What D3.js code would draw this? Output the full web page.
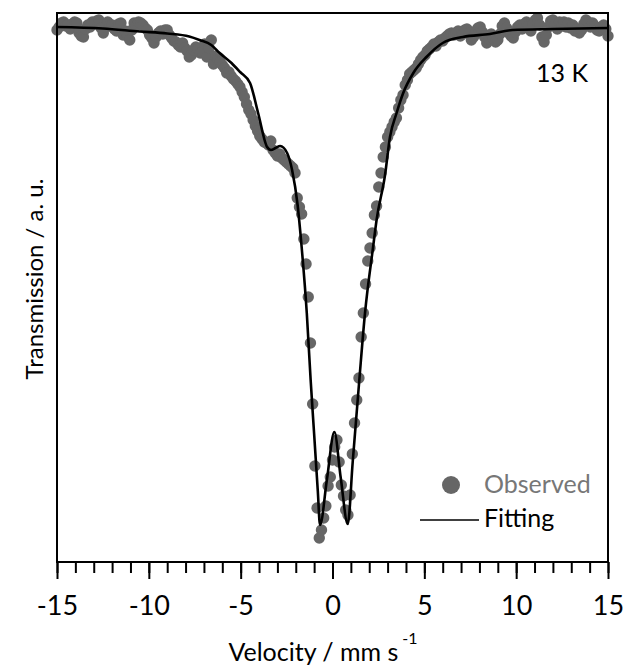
<!DOCTYPE html>
<html>
<head>
<meta charset="utf-8">
<script src="https://cdn.jsdelivr.net/npm/d3@7/dist/d3.min.js"></script>
<style>
body { margin: 0; background: #fff; }
svg { font-family: Lato, "Open Sans", sans-serif; }
</style>
</head>
<body>
<svg id="graph" width="624" height="668"></svg>
<script>
// channel velocities (mm/s)
var velocity = [
-15.00,-14.88,-14.76,-14.64,-14.52,-14.40,-14.28,-14.16,-14.04,-13.92,
-13.80,-13.68,-13.56,-13.44,-13.32,-13.20,-13.08,-12.96,-12.84,-12.72,
-12.60,-12.48,-12.36,-12.24,-12.12,-12.00,-11.88,-11.76,-11.64,-11.52,
-11.40,-11.28,-11.16,-11.04,-10.92,-10.80,-10.68,-10.56,-10.44,-10.32,
-10.20,-10.08,-9.96,-9.84,-9.72,-9.60,-9.48,-9.36,-9.24,-9.12,
-9.00,-8.88,-8.76,-8.64,-8.52,-8.40,-8.28,-8.16,-8.04,-7.92,
-7.80,-7.68,-7.56,-7.44,-7.32,-7.20,-7.08,-6.96,-6.84,-6.72,
-6.60,-6.48,-6.36,-6.24,-6.12,-6.00,-5.88,-5.76,-5.64,-5.52,
-5.40,-5.28,-5.16,-5.04,-4.92,-4.80,-4.68,-4.56,-4.44,-4.32,
-4.20,-4.08,-3.96,-3.84,-3.72,-3.60,-3.48,-3.36,-3.24,-3.12,
-3.00,-2.88,-2.76,-2.64,-2.52,-2.40,-2.28,-2.16,-2.04,-1.92,
-1.80,-1.68,-1.56,-1.44,-1.32,-1.20,-1.08,-0.96,-0.84,-0.72,
-0.60,-0.48,-0.36,-0.24,-0.12,0.00,0.12,0.24,0.36,0.48,
0.60,0.72,0.84,0.96,1.08,1.20,1.32,1.44,1.56,1.68,
1.80,1.92,2.04,2.16,2.28,2.40,2.52,2.64,2.76,2.88,
3.00,3.12,3.24,3.36,3.48,3.60,3.72,3.84,3.96,4.08,
4.20,4.32,4.44,4.56,4.68,4.80,4.92,5.04,5.16,5.28,
5.40,5.52,5.64,5.76,5.88,6.00,6.12,6.24,6.36,6.48,
6.60,6.72,6.84,6.96,7.08,7.20,7.32,7.44,7.56,7.68,
7.80,7.92,8.04,8.16,8.28,8.40,8.52,8.64,8.76,8.88,
9.00,9.12,9.24,9.36,9.48,9.60,9.72,9.84,9.96,10.08,
10.20,10.32,10.44,10.56,10.68,10.80,10.92,11.04,11.16,11.28,
11.40,11.52,11.64,11.76,11.88,12.00,12.12,12.24,12.36,12.48,
12.60,12.72,12.84,12.96,13.08,13.20,13.32,13.44,13.56,13.68,
13.80,13.92,14.04,14.16,14.28,14.40,14.52,14.64,14.76,14.88,
15.00];

// observed transmission (%)
var observed = [
99.78,99.90,100.06,100.10,99.94,99.98,99.82,100.02,100.10,100.06,
99.66,99.54,99.50,99.82,99.98,99.90,100.10,100.02,100.14,100.18,
99.86,99.66,99.90,100.10,99.94,99.98,99.82,99.74,100.02,100.06,
99.58,99.74,99.54,99.38,99.78,100.06,99.94,100.10,100.06,99.98,
99.86,99.78,99.58,99.46,99.26,99.50,99.66,99.74,99.62,99.78,
99.78,99.58,99.46,99.34,99.30,99.18,99.10,99.26,99.06,98.94,
98.70,98.78,98.98,99.10,99.02,98.86,98.90,99.22,98.70,99.06,
99.38,98.42,98.74,98.58,98.50,98.38,98.26,98.06,98.10,97.94,
97.82,97.74,97.62,97.50,97.30,97.10,96.82,96.58,96.42,96.18,
95.94,95.74,95.54,95.42,95.30,95.26,95.18,95.34,94.98,94.86,
94.74,94.82,94.66,94.58,94.50,94.42,94.34,94.26,94.06,93.06,
92.70,92.42,91.42,90.42,89.10,87.26,84.82,82.34,80.66,79.46,
79.78,80.26,80.74,81.54,81.90,82.58,83.10,83.38,82.50,81.58,
81.14,80.58,80.38,81.18,82.82,84.06,84.98,85.86,87.50,88.46,
89.62,90.54,91.06,91.66,92.38,92.74,93.50,94.06,94.70,95.10,
95.50,95.70,95.90,96.10,96.26,96.66,96.98,97.18,97.58,97.78,
98.02,98.10,98.18,98.26,98.42,98.58,98.70,98.78,98.94,99.02,
99.10,99.22,99.14,99.30,99.38,99.34,99.46,99.54,99.62,99.66,
99.58,99.66,99.74,99.54,99.62,99.78,99.82,99.66,99.38,99.50,
99.74,99.86,99.90,99.70,99.50,99.26,99.42,99.62,99.46,99.30,
99.38,99.62,99.94,100.06,99.86,99.66,99.54,99.46,99.70,99.90,
99.98,99.82,100.02,100.10,99.94,99.74,100.02,100.18,100.26,99.98,
99.50,99.30,99.58,99.90,100.14,100.18,100.02,99.82,100.10,99.94,
100.10,99.90,100.06,99.86,99.98,99.74,99.82,99.66,99.78,100.02,
100.18,100.10,99.90,100.06,99.94,99.78,99.74,99.90,99.98,99.82,
99.54];

// fitted curve
var fitVelocity = [-15, -12.5, -10.5, -9, -7.8, -7.24, -6.6, -6.14, -5.5, -5.03, -4.49, -4.05,
  -3.56, -3.35, -3.1, -2.85, -2.47, -2.2, -1.9, -1.68, -1.4, -1.19, -1.0, -0.8, -0.68, -0.3,
  0.1, 0.45, 0.83, 1.1, 1.46, 1.77, 2.21, 2.4, 2.86, 3.13, 3.49, 3.85, 4.4, 5.13, 6.0, 7.1,
  8.57, 9.8, 12, 15];
var fitted = [99.90, 99.84, 99.72, 99.64, 99.52, 99.38, 99.18, 98.86, 98.46, 98.10, 97.66, 96.46,
  95.10, 94.98, 95.06, 95.14, 94.86, 94.18, 92.78, 91.10, 88.46, 85.78, 83.62, 81.34, 79.98, 81.82,
  83.70, 81.86, 80.02, 82.50, 85.78, 88.46, 91.10, 92.18, 93.98, 95.50, 96.46, 97.26, 98.06, 98.71,
  99.26, 99.50, 99.62, 99.78, 99.82, 99.86];

var xTicks = [-15, -10, -5, 0, 5, 10, 15];
var legendLabels = ["Observed", "Fitting"];
var tempLabel = "13 K";

var svg = d3.select("svg"),
    plotLeft = 57, plotRight = 608, plotTop = 13, plotBottom = 562;

var x = d3.scaleLinear().domain([-15, 15]).range([plotLeft, plotRight]);
var y = d3.scaleLinear().domain([78.5, 100.46]).range([plotBottom, plotTop]);

var obs = velocity.map(function(v, i) { return {v: v, t: observed[i]}; });
var fit = fitVelocity.map(function(v, i) { return {v: v, t: fitted[i]}; });

// minor ticks every 1 mm/s
svg.append("g")
  .attr("transform", "translate(0," + plotBottom + ")")
  .call(d3.axisBottom(x).ticks(30).tickSize(11).tickFormat(""))
  .call(function(g) { g.select(".domain").remove(); })
  .selectAll("line").attr("stroke", "#000").attr("stroke-width", 2);

var xAxis = svg.append("g")
  .attr("transform", "translate(0," + plotBottom + ")")
  .call(d3.axisBottom(x).tickValues(xTicks).tickSize(17).tickPadding(17).tickFormat(d3.format("d")));
xAxis.select(".domain").remove();
xAxis.selectAll("line").attr("stroke", "#000").attr("stroke-width", 2);
xAxis.selectAll("text").attr("fill", "#000").style("font-size", "27px")
  .style("font-family", "Lato, 'Open Sans', sans-serif")
  .text(function(d) { return d < 0 ? "-" + Math.abs(d) : d; });

// observed points
svg.append("g")
  .selectAll("circle")
  .data(obs)
  .enter().append("circle")
  .attr("cx", function(d) { return x(d.v); })
  .attr("cy", function(d) { return y(d.t); })
  .attr("r", 5.7)
  .attr("fill", "#666");

// fit line
var line = d3.line()
  .x(function(d) { return x(d.v); })
  .y(function(d) { return y(d.t); })
  .curve(d3.curveMonotoneX);

svg.append("path")
  .datum(fit)
  .attr("d", line)
  .attr("fill", "none")
  .attr("stroke", "#000")
  .attr("stroke-width", 2.6);

// frame
svg.append("rect")
  .attr("x", plotLeft).attr("y", plotTop)
  .attr("width", plotRight - plotLeft).attr("height", plotBottom - plotTop)
  .attr("fill", "none").attr("stroke", "#000").attr("stroke-width", 2);

// labels
svg.append("text")
  .attr("x", 588).attr("y", 82)
  .attr("text-anchor", "end")
  .style("font-size", "25px")
  .text(tempLabel);

svg.append("text")
  .attr("transform", "translate(43,279) rotate(-90)")
  .attr("text-anchor", "middle")
  .style("font-size", "24px")
  .text("Transmission / a. u.");

var xlab = svg.append("text")
  .attr("x", 323).attr("y", 661)
  .attr("text-anchor", "middle")
  .style("font-size", "25px")
  .text("Velocity / mm s");
xlab.append("tspan")
  .attr("dy", -17).attr("dx", 4)
  .style("font-size", "16px")
  .text("-1");

// legend
svg.append("circle")
  .attr("cx", 451).attr("cy", 485).attr("r", 9)
  .attr("fill", "#666");
svg.append("text")
  .attr("x", 484).attr("y", 493)
  .attr("fill", "#777")
  .style("font-size", "25px")
  .text(legendLabels[0]);
svg.append("line")
  .attr("x1", 420).attr("x2", 479)
  .attr("y1", 520).attr("y2", 520)
  .attr("stroke", "#000").attr("stroke-width", 1.5);
svg.append("text")
  .attr("x", 484).attr("y", 527)
  .attr("fill", "#000")
  .style("font-size", "25px")
  .text(legendLabels[1]);
</script>
</body>
</html>
